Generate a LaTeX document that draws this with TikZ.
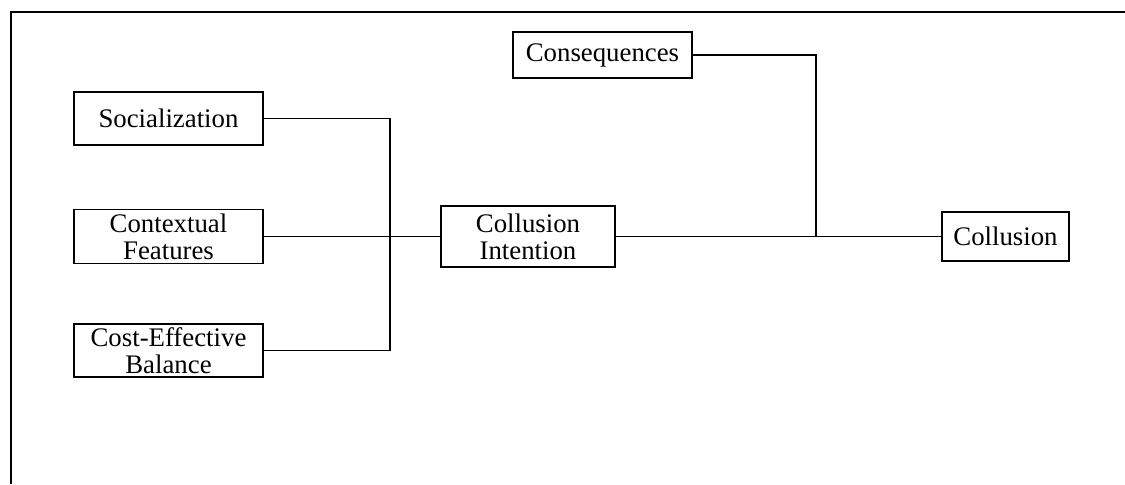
\documentclass[tikz,border=0pt]{standalone}
\usepackage{fontspec}
\setmainfont{Liberation Serif}
\begin{document}
\begin{tikzpicture}[x=0.5pt,y=-0.5pt,
  box/.style={draw,line width=0.9pt,inner sep=0pt,align=center,
    font=\fontsize{13.4}{13.4}\selectfont},
  link/.style={line width=0.9pt}]
\useasboundingbox (0,0) rectangle (1125,484);
% outer frame (top and left edges)
\draw[line width=1.2pt] (1125,12) -- (11,12) -- (11,484);
% factor boxes
\node[box,minimum width=94.5pt,minimum height=26.5pt] (soc) at (168.5,118.5) {Socialization};
\node[box,minimum width=94.5pt,minimum height=27pt] (ctx) at (168.5,236.5) {Contextual\\Features};
\node[box,minimum width=94.5pt,minimum height=26.5pt] (cost) at (168.5,350.5) {Cost-Effective\\Balance};
\node[box,minimum width=87pt,minimum height=30.5pt] (ci) at (528,236.5) {Collusion\\Intention};
\node[box,minimum width=89.5pt,minimum height=23pt] (cons) at (602.5,55) {Consequences};
\node[box,minimum width=63.5pt,minimum height=24.5pt] (col) at (1005.5,236.5) {Collusion};
% junction points
\coordinate (j1) at (390,236.5);
\coordinate (j2) at (816,236.5);
% connectors
\draw[link] (soc.east) -- (soc.east -| j1) -- (cost.east -| j1) -- (cost.east);
\draw[link] (ctx.east) -- (ci.west);
\draw[link] (cons.east) -- (cons.east -| j2) -- (j2);
\draw[link] (ci.east) -- (col.west);
\end{tikzpicture}
\end{document}
